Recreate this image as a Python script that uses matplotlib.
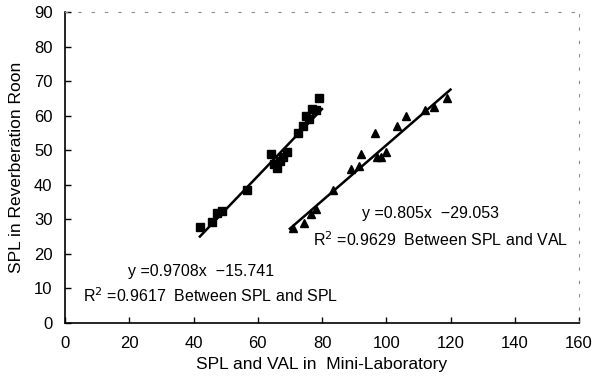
import matplotlib
matplotlib.use("Agg")
import numpy as np
from matplotlib import pyplot as plt

# --- data ---
# SPL: mini-laboratory vs reverberation room (squares)
spl_x = [42, 45.8, 47.3, 48.9, 56.7, 64, 65, 66, 67, 68, 69, 72.5, 74, 75, 76, 77, 78, 79]
spl_y = [27.7, 29.1, 31.7, 32.3, 38.4, 49, 46, 45, 47, 48, 49.5, 55, 57, 60, 59, 62, 61.5, 65]

# VAL: mini-laboratory vs reverberation room (triangles)
val_x = [71, 74.5, 76.5, 78, 83.5, 89, 91.5, 92, 96.5, 97, 98.5, 100, 103.5, 106, 112, 115, 119]
val_y = [27.5, 29, 31.5, 33, 38.5, 44.5, 45.5, 49, 55, 48, 48, 49.5, 57, 60, 61.5, 62.5, 65]

# regression lines (slope, intercept, x range)
spl_fit = (0.9708, -15.741, 42, 80)
val_fit = (0.805, -29.053, 70, 120)

x_ticks = [0, 20, 40, 60, 80, 100, 120, 140, 160]
y_ticks = [0, 10, 20, 30, 40, 50, 60, 70, 80, 90]


def main():
    plt.rcParams["font.family"] = ["Liberation Sans", "DejaVu Sans"]

    fig = plt.figure(figsize=(6.08, 3.91), dpi=100)
    ax = fig.add_axes([65 / 608, 1 - 323 / 391, (579 - 65) / 608, (323 - 12) / 391])

    # --- scatter points ---
    ax.plot(spl_x, spl_y, "s", color="black", markersize=5.5)
    ax.plot(val_x, val_y, "^", color="black", markersize=6)

    # --- fitted lines ---
    for slope, icpt, x0, x1 in (spl_fit, val_fit):
        xs = np.array([x0, x1])
        ax.plot(xs, slope * xs + icpt, color="black", lw=1.8)

    # --- equation labels ---
    fs = 11.5
    ax.text(92.5, 31.6, "y =0.805x  \u221229.053", fontsize=fs, va="center")
    ax.text(77.2, 24.2, "R$^2$ =0.9629  Between SPL and VAL", fontsize=fs, va="center")
    ax.text(19.5, 15.0, "y =0.9708x  \u221215.741", fontsize=fs, va="center")
    ax.text(5.6, 7.8, "R$^2$ =0.9617  Between SPL and SPL", fontsize=fs, va="center")

    # --- axes styling ---
    ax.set_xlim(0, 160)
    ax.set_ylim(0, 90)
    ax.set_xticks(x_ticks)
    ax.set_yticks(y_ticks)
    ax.tick_params(direction="in", length=4, width=1, labelsize=12, pad=9)
    ax.set_xlabel("SPL and VAL in  Mini-Laboratory", fontsize=12.5, labelpad=5)
    ax.set_ylabel("SPL in Reverberation Roon", fontsize=12.5, labelpad=7)

    for side in ("left", "bottom"):
        ax.spines[side].set_linewidth(1.2)
    for side in ("top", "right"):
        ax.spines[side].set_linestyle((0, (2, 10)))
        ax.spines[side].set_color("0.55")
        ax.spines[side].set_linewidth(0.8)

    fig.savefig("out.png", dpi=100)


if __name__ == "__main__":
    main()
